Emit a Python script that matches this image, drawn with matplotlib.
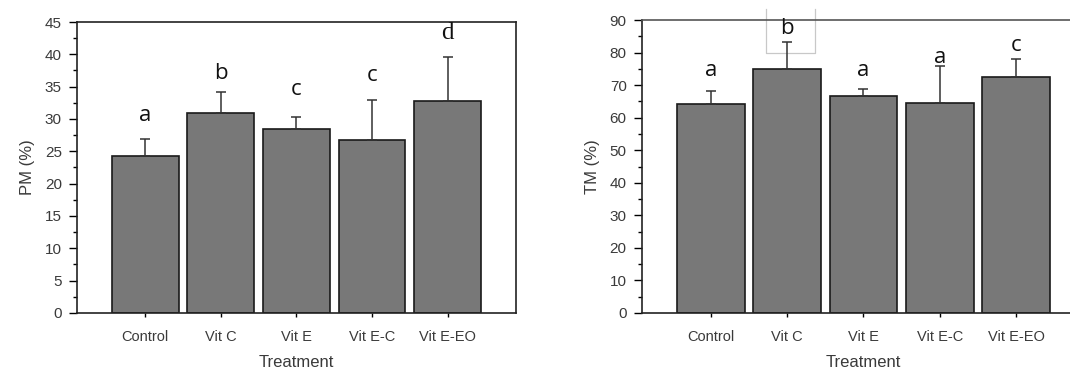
import matplotlib.pyplot as plt
from matplotlib.ticker import MultipleLocator

# Treatment groups
treatments = ["Control", "Vit C", "Vit E", "Vit E-C", "Vit E-EO"]

# PM (%) means, upper SD and significance letters
pm_mean = [24.3, 30.9, 28.5, 26.7, 32.8]
pm_sd = [2.6, 3.2, 1.8, 6.3, 6.8]
pm_letters = ["a", "b", "c", "c", "d"]
pm_letter_y = [30.6, 37.1, 34.6, 36.8, 43.3]

# TM (%) means, upper SD and significance letters
tm_mean = [64.2, 74.9, 66.6, 64.6, 72.6]
tm_sd = [4.0, 8.5, 2.2, 11.3, 5.4]
tm_letters = ["a", "b", "a", "a", "c"]
tm_letter_y = [74.5, 87.4, 74.5, 78.5, 82.2]

text_col = "#3a3a3a"
plt.rcParams['font.family'] = ['Liberation Sans', 'DejaVu Sans']

fig = plt.figure(figsize=(10.7, 3.73), dpi=100)
ax1 = fig.add_axes([0.072, 0.161, 0.410, 0.780])
ax2 = fig.add_axes([0.600, 0.161, 0.414, 0.785])


def draw_panel(ax, means, sds, letters, letter_y, ymax, minor, ylabel):
    x = range(len(treatments))
    ax.bar(x, means, width=0.885, color="#787878", edgecolor="#1a1a1a",
           linewidth=1.2, zorder=2)
    ax.errorbar(x, means, yerr=[[0] * len(sds), sds], fmt="none",
                ecolor="#333333", elinewidth=1.1, capsize=3.5, capthick=1.1,
                zorder=3)
    for i, (lt, ly) in enumerate(zip(letters, letter_y)):
        if lt == "d":
            ax.text(i, ly, lt, ha="center", va="center", fontsize=18,
                    family=['Liberation Serif'], color="#111111", clip_on=False)
        else:
            ax.text(i, ly, lt, ha="center", va="center", fontsize=16,
                    family=['Open Sans', 'DejaVu Sans'], color="#111111",
                    clip_on=False)
    ax.set_xlim(-0.9, 4.9)
    ax.set_ylim(0, ymax)
    ax.set_xticks(list(x))
    ax.set_xticklabels(treatments, fontsize=10.5, color=text_col)
    ax.yaxis.set_minor_locator(MultipleLocator(minor))
    ax.tick_params(axis="y", which="major", direction="out", length=6,
                   width=1, labelsize=11, labelcolor=text_col, pad=5)
    ax.tick_params(axis="y", which="minor", direction="out", length=3, width=1)
    ax.tick_params(axis="x", direction="out", length=3, width=1, pad=9)
    for s in ax.spines.values():
        s.set_linewidth(1.2)
        s.set_color("#222222")
    ax.set_xlabel("Treatment", fontsize=12, color=text_col, labelpad=8)
    ax.set_ylabel(ylabel, fontsize=12, color=text_col, labelpad=7)


draw_panel(ax1, pm_mean, pm_sd, pm_letters, pm_letter_y, 45, 2.5, "PM (%)")
draw_panel(ax2, tm_mean, tm_sd, tm_letters, tm_letter_y, 90, 5, "TM (%)")
ax2.yaxis.set_major_locator(MultipleLocator(10))
ax2.spines["top"].set_color("#555555")

# faint selection box left around the "b" label in the TM panel
ax2.plot([0.72, 0.72, 1.37, 1.37], [93.5, 79.8, 79.8, 93.5], color="#c8c8c8",
         linewidth=0.9, clip_on=False, zorder=1)

fig.savefig("out.png", dpi=100)
